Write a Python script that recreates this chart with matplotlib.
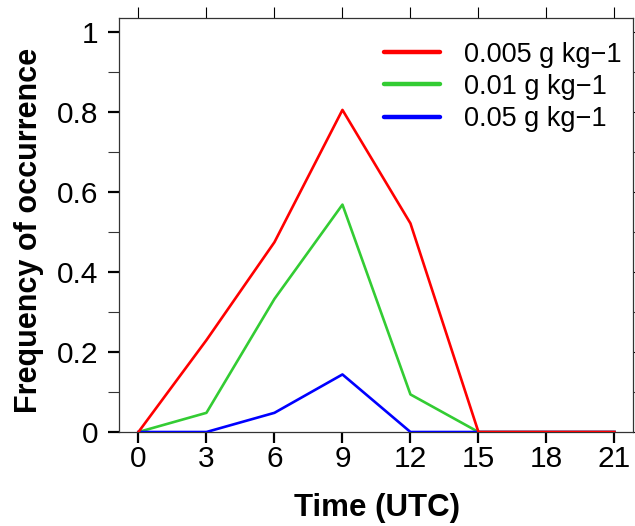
import matplotlib
matplotlib.use("Agg")
from matplotlib import pyplot as plt
from matplotlib.ticker import MultipleLocator

plt.rcParams['font.family'] = ['Liberation Sans', 'DejaVu Sans']

# hours (UTC)
hours = [0, 3, 6, 9, 12, 15, 18, 21]

# frequency of occurrence per threshold
freq_0005 = [0, 0.23, 0.475, 0.806, 0.522, 0, 0, 0]
freq_001 = [0, 0.048, 0.333, 0.569, 0.094, 0, 0, 0]
freq_005 = [0, 0, 0.048, 0.144, 0, 0, 0, 0]

labels = ["0.005 g kg\u22121", "0.01 g kg\u22121", "0.05 g kg\u22121"]
colors = ["#ff0000", "#33cc33", "#0000ff"]

yticks = [0, 0.2, 0.4, 0.6, 0.8, 1]
ytick_labels = ["0", "0.2", "0.4", "0.6", "0.8", "1"]

fig = plt.figure(figsize=(6.35, 5.26), dpi=100)
ax = fig.add_axes([0.1874, 0.1787, 0.8095, 0.7871])

l1, = ax.plot(hours, freq_0005, color=colors[0], lw=1.9, zorder=4, label=labels[0])
l2, = ax.plot(hours, freq_001, color=colors[1], lw=1.9, zorder=2, label=labels[1])
l3, = ax.plot(hours, freq_005, color=colors[2], lw=1.9, zorder=3, label=labels[2])

ax.set_xlim(-0.858, 21.82)
ax.set_ylim(0, 1.036)
ax.set_xticks(hours)
ax.set_xticklabels([str(h) for h in hours])
ax.set_yticks(yticks)
ax.set_yticklabels(ytick_labels)
ax.yaxis.set_minor_locator(MultipleLocator(0.1))

ax.tick_params(axis='both', which='major', direction='out', length=8, width=1.6,
               labelsize=21.5, colors='black')
ax.tick_params(axis='y', which='minor', direction='out', length=8, width=0.8,
               left=True, right=True, color='#333333')
ax.tick_params(axis='x', which='major', top=True, pad=1)
ax.tick_params(axis='y', which='major', right=True, pad=7)
for t in ax.xaxis.get_major_ticks():
    t.tick2line.set_markeredgewidth(0.8)
    t.tick2line.set_color('#333333')
for t in ax.yaxis.get_major_ticks():
    t.tick2line.set_markeredgewidth(0.8)
    t.tick2line.set_color('#333333')

for s in ax.spines.values():
    s.set_linewidth(0.9)
    s.set_color('#333333')

ax.set_xlabel("Time (UTC)", fontsize=22.5, fontweight='bold')
ax.set_ylabel("Frequency of occurrence", fontsize=22, fontweight='bold')
ax.xaxis.set_label_coords(0.502, -0.147)
ax.yaxis.set_label_coords(-0.145, 0.488)

leg = ax.legend(handles=[l1, l2, l3], loc='upper right', frameon=False, fontsize=19.5,
                handlelength=2.06, handletextpad=0.87, labelspacing=0.23,
                borderaxespad=0, borderpad=0, bbox_to_anchor=(0.977, 0.943))
for ln in leg.get_lines():
    ln.set_linewidth(3.2)
    ln.set_solid_capstyle('round')

fig.savefig("out.png", dpi=100)
